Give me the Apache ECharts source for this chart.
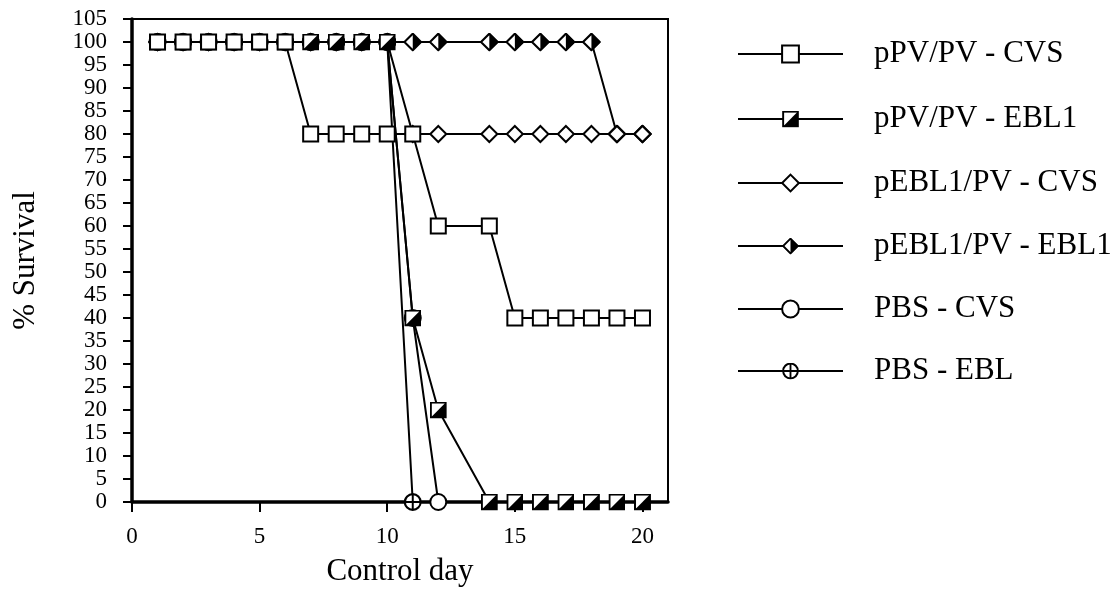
<!DOCTYPE html>
<html>
<head>
<meta charset="utf-8">
<script src="https://cdn.jsdelivr.net/npm/echarts@6/dist/echarts.min.js"></script>
<style>
html,body{margin:0;padding:0;background:#fff;}
#chart{width:1120px;height:592px;}
</style>
</head>
<body>
<div id="chart"></div>
<script>
// ---- data ----
const days = [1,2,3,4,5,6,7,8,9,10,11,12,14,15,16,17,18,19,20];
const pPV_CVS    = [100,100,100,100,100,100,80,80,80,80,80,60,60,40,40,40,40,40,40];
const pPV_EBL1   = [100,100,100,100,100,100,100,100,100,100,40,20,0,0,0,0,0,0,0];
const pEBL1_CVS  = [100,100,100,100,100,100,100,100,100,100,80,80,80,80,80,80,80,80,80];
const pEBL1_EBL1 = [100,100,100,100,100,100,100,100,100,100,100,100,100,100,100,100,100,80,80];
const PBS_CVS    = [100,100,100,100,100,100,100,100,100,100,40,0];
const PBS_EBL    = [100,100,100,100,100,100,100,100,100,100,0];
const seriesNames = ['pPV/PV - CVS','pPV/PV - EBL1','pEBL1/PV - CVS','pEBL1/PV - EBL1','PBS - CVS','PBS - EBL'];
const xTicks = [0,5,10,15,20];

function pairs(vals){ return vals.map((v,i)=>[days[i], v]); }
function svgSym(s){ return 'image://data:image/svg+xml;charset=utf-8,' + encodeURIComponent(s); }

const halfSquare = svgSym("<svg xmlns='http://www.w3.org/2000/svg' width='60' height='60' viewBox='0 0 20 20'><rect x='1.2' y='1.2' width='17.6' height='17.6' fill='white' stroke='black' stroke-width='2.4'/><path d='M1.2 18.8 L18.8 1.2 L18.8 18.8 Z' fill='black'/></svg>");
const halfDiamond = svgSym("<svg xmlns='http://www.w3.org/2000/svg' width='60' height='60' viewBox='0 0 20 20'><path d='M10 1.2 L18.8 10 L10 18.8 L1.2 10 Z' fill='white' stroke='black' stroke-width='2.2' stroke-linejoin='miter'/><path d='M10 1.2 L18.8 10 L10 18.8 Z' fill='black'/></svg>");
const circlePlus = svgSym("<svg xmlns='http://www.w3.org/2000/svg' width='60' height='60' viewBox='0 0 20 20'><circle cx='10' cy='10' r='8.8' fill='white' stroke='black' stroke-width='2.4'/><path d='M10 1.2 V18.8 M1.2 10 H18.8' stroke='black' stroke-width='2.2'/></svg>");

const FONT = '"Liberation Serif","Times New Roman",serif';
function mkSeries(name, vals, symbol, size, order){
  return {
    name: name, type: 'line', data: pairs(vals), symbol: symbol, symbolSize: size,
    showAllSymbol: true, animation: false, z: 2 + order,
    lineStyle: {color: '#000', width: 2},
    itemStyle: {color: '#fff', borderColor: '#000', borderWidth: 2, opacity: 1},
    emphasis: {disabled: true}
  };
}

// bottom-to-top drawing order
const series = [
  mkSeries(seriesNames[3], pEBL1_EBL1, halfDiamond, 19, 0),
  mkSeries(seriesNames[2], pEBL1_CVS, 'diamond', 16, 1),
  mkSeries(seriesNames[4], PBS_CVS, 'circle', 16, 2),
  mkSeries(seriesNames[5], PBS_EBL, circlePlus, 18, 3),
  mkSeries(seriesNames[1], pPV_EBL1, halfSquare, 17, 4),
  mkSeries(seriesNames[0], pPV_CVS, 'rect', 15, 5)
];

const legendRows = [53,118,182,245,308,370];
const legends = seriesNames.map((n,i)=>({
  data: [n], orient: 'vertical', left: 737, top: legendRows[i] - 15,
  padding: 0, itemWidth: 105, itemHeight: 21, selectedMode: false,
  textStyle: {fontFamily: FONT, fontSize: 31, lineHeight: 32, color: '#000', padding: [0,0,0,26]}
}));

const chart = echarts.init(document.getElementById('chart'), null, {renderer: 'canvas'});
chart.setOption({
  backgroundColor: '#fff',
  animation: false,
  legend: legends,
  grid: {left: 132, right: 452, top: 19, bottom: 89.5, show: true, borderColor: '#000', borderWidth: 2, backgroundColor: 'transparent'},
  xAxis: {
    type: 'value', min: 0, max: 21, interval: 5,
    name: 'Control day', nameLocation: 'middle', nameGap: 54,
    nameTextStyle: {fontFamily: FONT, fontSize: 31, color: '#000'},
    axisLine: {show: true, lineStyle: {color: '#000', width: 3.5}},
    axisTick: {show: true, inside: false, length: 10, lineStyle: {color: '#000', width: 2}, customValues: xTicks},
    axisLabel: {fontFamily: FONT, fontSize: 23, color: '#000', margin: 23, customValues: xTicks},
    splitLine: {show: false}
  },
  yAxis: {
    type: 'value', min: 0, max: 105, interval: 5,
    name: '% Survival', nameLocation: 'middle', nameGap: 91, nameRotate: 90,
    nameTextStyle: {fontFamily: FONT, fontSize: 31, color: '#000'},
    axisLine: {show: true, lineStyle: {color: '#000', width: 3.5}},
    axisTick: {show: true, inside: false, length: 9, lineStyle: {color: '#000', width: 2}},
    axisLabel: {fontFamily: FONT, fontSize: 23, color: '#000', margin: 25},
    splitLine: {show: false}
  },
  series: series
});
</script>
</body>
</html>
